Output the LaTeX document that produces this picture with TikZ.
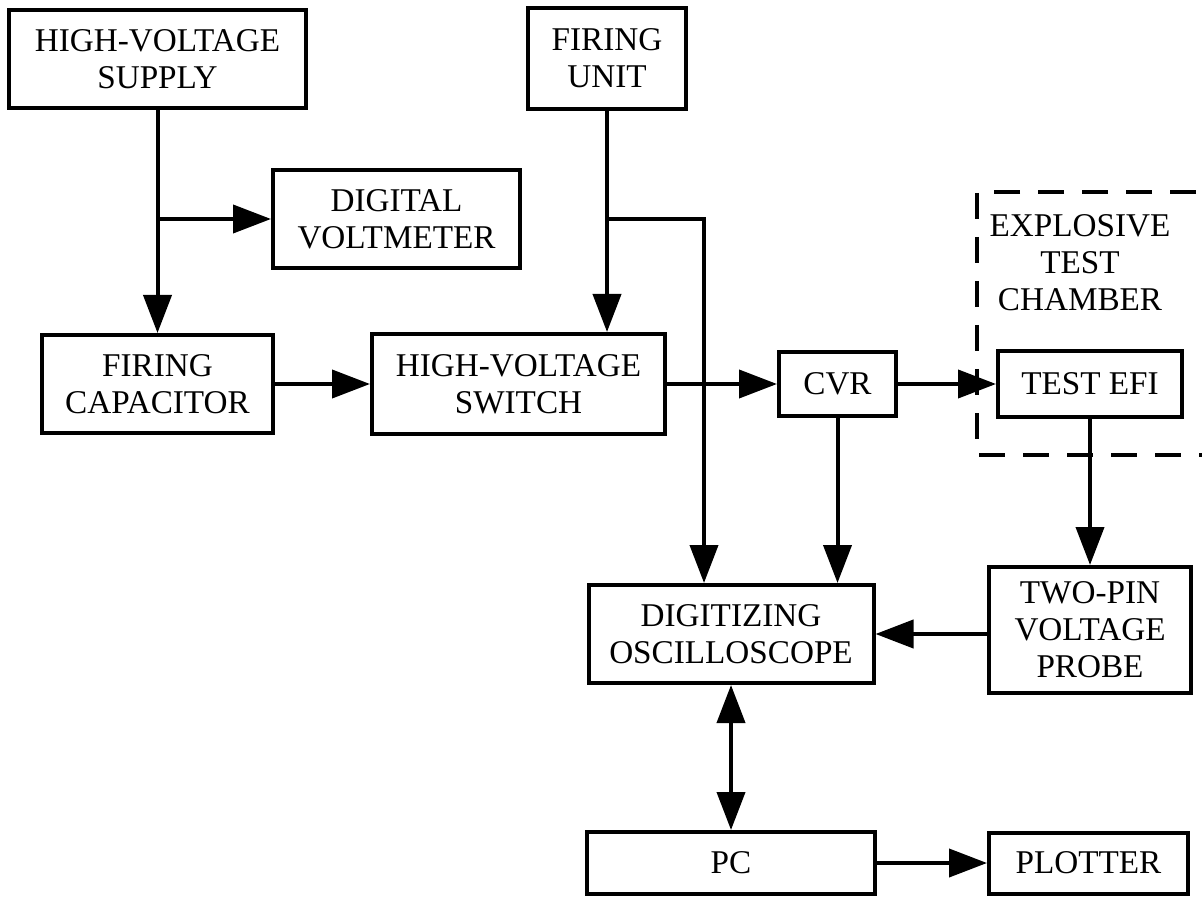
\documentclass[tikz,border=0pt]{standalone}
\usepackage{fontspec}
\setmainfont{Liberation Serif}
\usetikzlibrary{arrows.meta}
\tikzset{
  blk/.style={draw, line width=2pt, inner sep=0pt, align=center,
    font=\fontsize{16.6}{18.5}\selectfont},
  flow/.style={line width=2pt, -{Triangle[length=19pt,width=14pt]}},
  twoway/.style={line width=2pt, {Triangle[length=19pt,width=14pt]}-{Triangle[length=19pt,width=14pt]}},
}

\begin{document}
\begin{tikzpicture}[x=0.5pt,y=-0.5pt]
  \useasboundingbox (0,0) rectangle (1202,897);

  % dashed chamber, runs off the right edge
  \draw[line width=2pt, dash pattern=on 13pt off 9pt] (1240,192) -| (977,455) -- (1240,455);
  \node[align=center, font=\fontsize{16.6}{18.5}\selectfont] (chamber) at (1080,263) {EXPLOSIVE\\TEST\\CHAMBER};

  % boxes
  \node[blk, minimum width=148.5pt, minimum height=49pt] (hvs) at (157.5,59) {HIGH-VOLTAGE\\SUPPLY};
  \node[blk, minimum width=123.5pt, minimum height=49pt] (dvm) at (396.5,219) {DIGITAL\\VOLTMETER};
  \node[blk, minimum width=79pt, minimum height=50.5pt] (fu) at (607,58.5) {FIRING\\UNIT};
  \node[blk, minimum width=115.5pt, minimum height=49pt] (fc) at (157.5,384) {FIRING\\CAPACITOR};
  \node[blk, minimum width=146.5pt, minimum height=50pt] (sw) at (518.5,384) {HIGH-VOLTAGE\\SWITCH};
  \node[blk, minimum width=58.5pt, minimum height=31.5pt] (cvr) at (837.5,384) {CVR};
  \node[blk, minimum width=92pt, minimum height=32.5pt] (efi) at (1090,384) {TEST EFI};
  \node[blk, minimum width=142.5pt, minimum height=49pt] (dso) at (731,634) {DIGITIZING\\OSCILLOSCOPE};
  \node[blk, minimum width=101pt, minimum height=63pt] (probe) at (1090,630) {TWO-PIN\\VOLTAGE\\PROBE};
  \node[blk, minimum width=144pt, minimum height=31pt] (pc) at (731,863) {PC};
  \node[blk, minimum width=99.5pt, minimum height=30.5pt] (plot) at (1088.5,863) {PLOTTER};

  % connections
  \coordinate (br) at (704,219);
  \draw[flow] (hvs.south) -- (fc.north);
  \draw[flow] (hvs.south |- dvm.west) -- (dvm.west);
  \draw[flow] (fu.south) -- (fu.south |- sw.north);
  \draw[flow] (fu.south |- br) -- (br) -- (br |- dso.north);
  \draw[flow] (fc.east) -- (fc.east -| sw.west);
  \draw[flow] (sw.east) -- (sw.east -| cvr.west);
  \draw[flow] (cvr.east) -- (cvr.east -| efi.west);
  \draw[flow] (cvr.south) -- (cvr.south |- dso.north);
  \draw[flow] (efi.south) -- (efi.south |- probe.north);
  \draw[flow] (probe.west |- dso.east) -- (dso.east);
  \draw[twoway] (dso.south) -- (pc.north);
  \draw[flow] (pc.east) -- (pc.east -| plot.west);
\end{tikzpicture}
\end{document}
